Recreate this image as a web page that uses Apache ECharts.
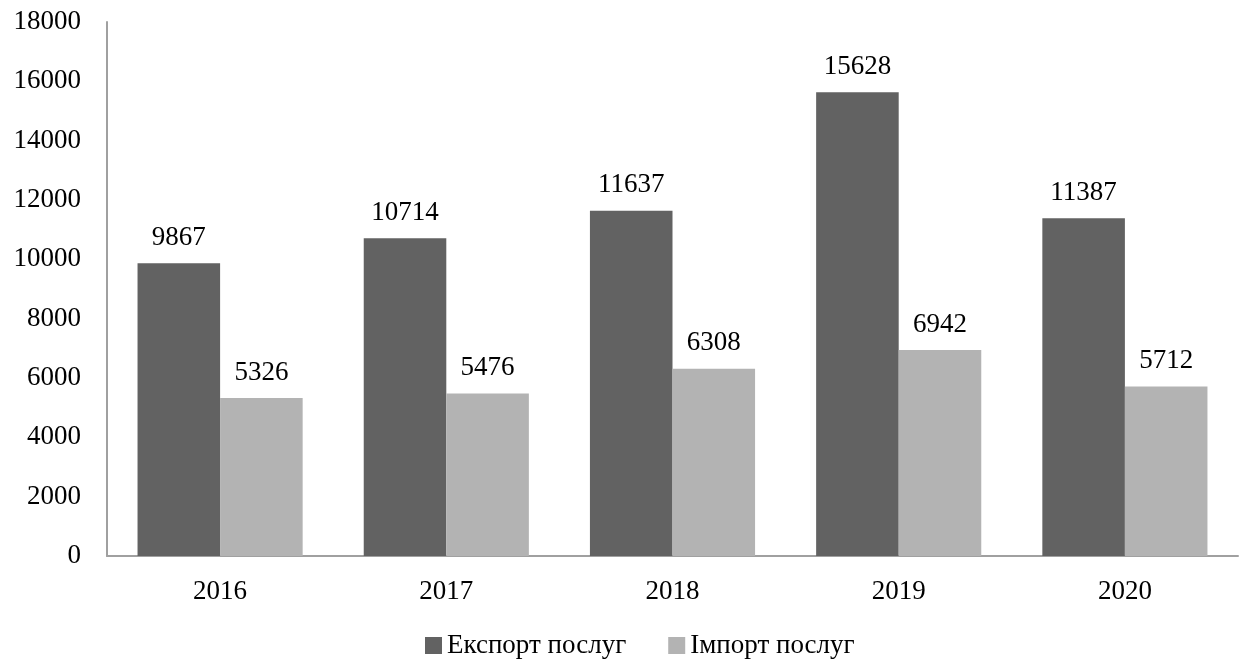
<!DOCTYPE html>
<html lang="uk">
<head>
    <meta charset="UTF-8">
    <title>Експорт та імпорт послуг</title>
    <script src="https://cdn.jsdelivr.net/npm/echarts@6/dist/echarts.min.js"></script>
    <style>
        html, body { margin: 0; padding: 0; background: #fff; }
    </style>
</head>
<body>
    <div id="main" style="width: 1242px; height: 662px;"></div>
    <script>
        var years = ['2016', '2017', '2018', '2019', '2020'];
        var exportVals = [9867, 10714, 11637, 15628, 11387];
        var importVals = [5326, 5476, 6308, 6942, 5712];

        var font = 'Liberation Serif';
        var fs = 27;
        var myChart = echarts.init(document.getElementById('main'));

        var option = {
            animation: false,
            textStyle: { fontFamily: font },
            grid: { left: 107, right: 4, top: 22, bottom: 106 },
            legend: {
                top: 627,
                left: 420,
                itemWidth: 17,
                itemHeight: 17,
                itemGap: 42,
                icon: 'rect',
                textStyle: { fontFamily: font, fontSize: fs, color: '#000' },
                data: ['Експорт послуг', 'Імпорт послуг']
            },
            xAxis: {
                type: 'category',
                data: years,
                axisLine: { lineStyle: { color: '#a0a0a0', width: 2 } },
                axisTick: { show: false },
                axisLabel: { color: '#000', fontSize: fs, margin: 22, fontFamily: font }
            },
            yAxis: {
                type: 'value',
                min: 0,
                max: 18000,
                interval: 2000,
                axisLine: { show: true, lineStyle: { color: '#a0a0a0', width: 2 } },
                axisTick: { show: false },
                splitLine: { show: false },
                axisLabel: {
                    color: '#000', fontSize: fs, margin: 26, fontFamily: font,
                    formatter: function (v) { return String(v); }
                }
            },
            series: [{
                name: 'Експорт послуг',
                type: 'bar',
                data: exportVals,
                barGap: '0%',
                barCategoryGap: '27%',
                itemStyle: { color: '#626262' },
                label: { show: true, position: 'top', distance: 12, color: '#000', fontSize: fs, fontFamily: font }
            }, {
                name: 'Імпорт послуг',
                type: 'bar',
                data: importVals,
                itemStyle: { color: '#b3b3b3' },
                label: { show: true, position: 'top', distance: 12, color: '#000', fontSize: fs, fontFamily: font }
            }]
        };

        myChart.setOption(option);
    </script>
</body>
</html>
